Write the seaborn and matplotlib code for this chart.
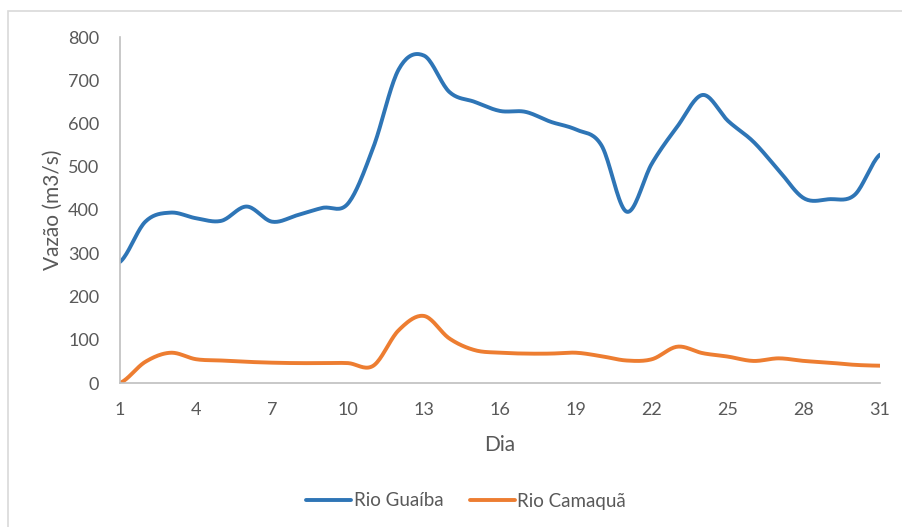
import numpy as np
import pandas as pd
import matplotlib
matplotlib.use("Agg")
import matplotlib.pyplot as plt
from matplotlib.patches import Rectangle
from matplotlib.lines import Line2D
import seaborn as sns

# Daily discharge (m3/s)
dias = list(range(1, 32))
rio_guaiba = [280, 373, 394, 381, 375, 408, 373, 388, 405, 415, 545, 725, 757, 673, 650,
              629, 627, 604, 586, 550, 396, 508, 593, 666, 606, 558, 492, 427, 425, 435, 528]
rio_camaqua = [0, 49, 70, 55, 52, 49, 47, 46, 46, 46, 40, 122, 155, 103, 76,
               70, 68, 68, 70, 62, 52, 55, 84, 69, 61, 51, 57, 51, 47, 42, 40]
series_names = ["Rio Guaíba", "Rio Camaquã"]
colors = ["#2E75B6", "#ED7D31"]
x_ticks = list(range(1, 32, 3))
y_ticks = list(range(0, 801, 100))


def smooth(x, y, n=20):
    """Catmull-Rom curve through every point (spreadsheet-style smoothed line)."""
    x = np.asarray(x, float)
    y = np.asarray(y, float)
    px = np.concatenate([[2 * x[0] - x[1]], x, [2 * x[-1] - x[-2]]])
    py = np.concatenate([[y[0]], y, [y[-1]]])
    xs, ys = [], []
    t = np.linspace(0, 1, n, endpoint=False)
    for i in range(1, len(px) - 2):
        for p, out in ((px, xs), (py, ys)):
            p0, p1, p2, p3 = p[i - 1], p[i], p[i + 1], p[i + 2]
            out.extend(0.5 * ((2 * p1) + (-p0 + p2) * t
                              + (2 * p0 - 5 * p1 + 4 * p2 - p3) * t ** 2
                              + (-p0 + 3 * p1 - 3 * p2 + p3) * t ** 3))
    xs.append(x[-1])
    ys.append(y[-1])
    return np.array(xs), np.array(ys)


frames = []
for name, vals in zip(series_names, [rio_guaiba, rio_camaqua]):
    sx, sy = smooth(dias, vals)
    frames.append(pd.DataFrame({"Dia": sx, "Vazao": sy, "Serie": name}))
df = pd.concat(frames, ignore_index=True)

sns.set_theme(style="white")
plt.rcParams["font.family"] = ["Lato", "DejaVu Sans"]

fig = plt.figure(figsize=(9.02, 5.27), dpi=100)
fig.patches.append(Rectangle((8 / 902, -0.05), 1.2, 1 - 11 / 527 + 0.05,
                             transform=fig.transFigure, fill=False,
                             edgecolor="#D9D9D9", linewidth=1.2, zorder=0))

ax = fig.add_axes([120 / 902, (527 - 383) / 527, 760 / 902, 346 / 527])
sns.lineplot(data=df, x="Dia", y="Vazao", hue="Serie", palette=colors,
             hue_order=series_names, linewidth=2.8, sort=False,
             legend=False, ax=ax)

ax.set_xlim(1, 31)
ax.set_ylim(0, 800)
ax.set_xticks(x_ticks)
ax.set_yticks(y_ticks)
ax.tick_params(axis="both", labelsize=13, colors="#595959", length=0)
ax.tick_params(axis="x", pad=14)
ax.tick_params(axis="y", pad=15)
ax.set_xlabel("Dia", fontsize=15, color="#595959", labelpad=12)
ax.set_ylabel("Vazão (m3/s)", fontsize=15, color="#595959", labelpad=4)

for side in ["top", "right"]:
    ax.spines[side].set_visible(False)
for side in ["left", "bottom"]:
    ax.spines[side].set_color("#BFBFBF")
    ax.spines[side].set_linewidth(1.2)

handles = [Line2D([0], [0], color=c, linewidth=2.8) for c in colors]
fig.legend(handles, series_names, loc="center", bbox_to_anchor=(466 / 902, 1 - 501 / 527),
           ncol=2, frameon=False, fontsize=13.5, handlelength=2.4,
           handletextpad=0.15, columnspacing=1.4, labelcolor="#595959")

fig.savefig("out.png", dpi=100, facecolor="white")
